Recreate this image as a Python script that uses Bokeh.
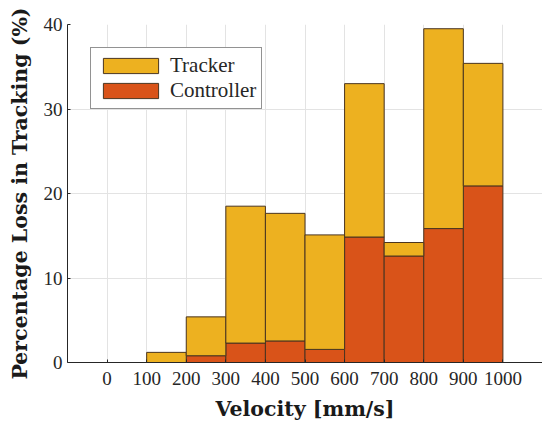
from bokeh.plotting import figure
from bokeh.models import Range1d, FixedTicker, Legend, LegendItem, ColumnDataSource
from bokeh.embed import file_html
from bokeh.resources import INLINE

# Data
bin_start = [0, 100, 200, 300, 400, 500, 600, 700, 800, 900]
bin_width = 100
controller = [0.0, 0.0, 0.8, 2.3, 2.55, 1.55, 14.85, 12.6, 15.85, 20.9]
tracker = [0.0, 1.2, 4.6, 16.2, 15.1, 13.55, 18.15, 1.6, 23.65, 14.5]
x_ticks = [0, 100, 200, 300, 400, 500, 600, 700, 800, 900, 1000]
y_ticks = [0, 10, 20, 30, 40]

TRACKER_COLOR = "#EDB120"
CONTROLLER_COLOR = "#D95319"
EDGE = "#4a3520"
AX = "#262626"

source = ColumnDataSource(dict(
    x=[b + bin_width / 2 for b in bin_start],
    controller=controller,
    tracker=tracker,
))

p = figure(width=542, height=423, output_backend="svg", toolbar_location=None,
           x_range=Range1d(-100, 1100), y_range=Range1d(0, 40),
           min_border_left=67, min_border_right=0, min_border_top=24, min_border_bottom=60)

renderers = p.vbar_stack(["controller", "tracker"], x="x", width=bin_width,
                         color=[CONTROLLER_COLOR, TRACKER_COLOR],
                         line_color=EDGE, line_width=1, source=source)

legend = Legend(items=[
    LegendItem(label="Tracker", renderers=[renderers[1]]),
    LegendItem(label="Controller", renderers=[renderers[0]]),
], location="top_left")
legend.margin = 23
legend.padding = 5
legend.spacing = 0
legend.glyph_width = 69
legend.glyph_height = 19
legend.label_height = 19
legend.label_standoff = 5
legend.border_line_color = AX
legend.border_line_width = 1
legend.background_fill_color = "white"
legend.background_fill_alpha = 1
legend.label_text_font = "Liberation Serif"
legend.label_text_font_size = "21px"
legend.label_text_color = AX
p.add_layout(legend)

p.outline_line_color = None
p.xaxis.ticker = FixedTicker(ticks=x_ticks)
p.yaxis.ticker = FixedTicker(ticks=y_ticks)
p.xgrid.ticker = FixedTicker(ticks=x_ticks + [1100])
p.ygrid.ticker = FixedTicker(ticks=y_ticks)
p.grid.grid_line_color = "#e3e3e3"
p.grid.grid_line_width = 1

for ax in (p.xaxis, p.yaxis):
    ax.axis_line_color = AX
    ax.major_tick_line_color = AX
    ax.major_tick_in = 3
    ax.major_tick_out = 0
    ax.minor_tick_line_color = None
    ax.major_label_text_font = "Liberation Serif"
    ax.major_label_text_font_size = "19px"
    ax.major_label_text_color = AX
    ax.axis_label_text_font = "DejaVu Serif"
    ax.axis_label_text_font_style = "bold"
    ax.axis_label_text_font_size = "20.5px"
    ax.axis_label_text_color = "#1a1a1a"

p.xaxis.axis_label = "Velocity [mm/s]"
p.yaxis.axis_label = "Percentage Loss in Tracking (%)"
p.xaxis.major_label_standoff = 9
p.yaxis.major_label_standoff = 5
p.xaxis.axis_label_standoff = 9
p.yaxis.axis_label_standoff = 9

open("out.html", "w").write(file_html(p, INLINE))
